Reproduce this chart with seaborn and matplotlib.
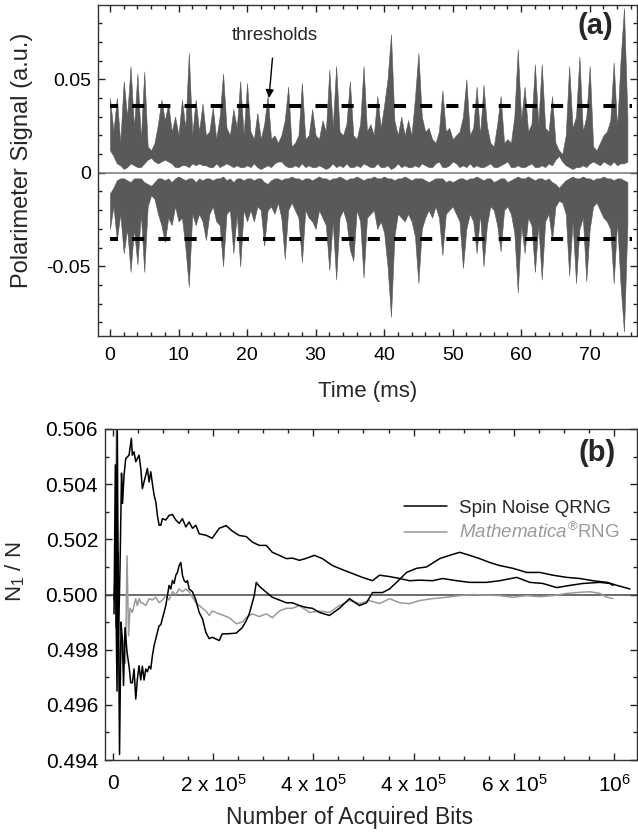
import numpy as np
import pandas as pd
import matplotlib
matplotlib.use('Agg')
import matplotlib.pyplot as plt
from matplotlib.lines import Line2D
from matplotlib.ticker import MultipleLocator, FixedLocator, FormatStrFormatter
import seaborn as sns

# ---- panel (a): polarimeter signal envelope, sampled every 0.5 ms ----
time_ms = np.arange(0, 76, 0.5)

pos_top = [0.040, 0.022, 0.040, 0.016, 0.049, 0.030, 0.057, 0.024, 0.053, 0.018,
           0.054, 0.014, 0.012, 0.016, 0.026, 0.039, 0.028, 0.037, 0.022, 0.030,
           0.020, 0.039, 0.024, 0.064, 0.020, 0.039, 0.022, 0.037, 0.020, 0.022,
           0.035, 0.018, 0.030, 0.053, 0.024, 0.020, 0.034, 0.024, 0.049, 0.020,
           0.048, 0.022, 0.018, 0.032, 0.018, 0.026, 0.041, 0.018, 0.020, 0.016,
           0.020, 0.028, 0.046, 0.014, 0.016, 0.020, 0.048, 0.018, 0.020, 0.034,
           0.020, 0.018, 0.028, 0.022, 0.055, 0.024, 0.057, 0.022, 0.020, 0.026,
           0.049, 0.020, 0.018, 0.026, 0.057, 0.022, 0.026, 0.020, 0.041, 0.024,
           0.036, 0.050, 0.074, 0.028, 0.020, 0.030, 0.020, 0.028, 0.020, 0.040,
           0.064, 0.030, 0.022, 0.024, 0.018, 0.016, 0.022, 0.044, 0.022, 0.024,
           0.018, 0.020, 0.022, 0.030, 0.050, 0.020, 0.024, 0.046, 0.020, 0.047,
           0.025, 0.016, 0.014, 0.026, 0.041, 0.016, 0.018, 0.016, 0.030, 0.066,
           0.028, 0.046, 0.022, 0.026, 0.058, 0.026, 0.058, 0.024, 0.022, 0.041,
           0.016, 0.012, 0.010, 0.020, 0.057, 0.024, 0.030, 0.062, 0.022, 0.030,
           0.057, 0.014, 0.012, 0.016, 0.020, 0.022, 0.028, 0.059, 0.024, 0.060,
           0.088, 0.030]

pos_bot = [0.012, 0.009, 0.005, 0.004, 0.002, 0.003, 0.005, 0.004, 0.003, 0.003,
           0.005, 0.007, 0.008, 0.006, 0.005, 0.006, 0.007, 0.006, 0.005, 0.003,
           0.003, 0.004, 0.004, 0.003, 0.005, 0.004, 0.005, 0.004, 0.004, 0.003,
           0.003, 0.005, 0.003, 0.004, 0.005, 0.004, 0.003, 0.004, 0.003, 0.003,
           0.004, 0.003, 0.005, 0.003, 0.002, 0.003, 0.004, 0.003, 0.005, 0.006,
           0.006, 0.004, 0.003, 0.003, 0.004, 0.003, 0.005, 0.003, 0.004, 0.003,
           0.003, 0.004, 0.003, 0.002, 0.003, 0.005, 0.003, 0.004, 0.003, 0.005,
           0.003, 0.003, 0.004, 0.003, 0.005, 0.004, 0.003, 0.003, 0.005, 0.003,
           0.003, 0.004, 0.002, 0.003, 0.005, 0.003, 0.004, 0.003, 0.003, 0.004,
           0.003, 0.005, 0.004, 0.003, 0.003, 0.005, 0.006, 0.003, 0.003, 0.004,
           0.006, 0.005, 0.003, 0.004, 0.003, 0.005, 0.003, 0.004, 0.003, 0.003,
           0.004, 0.005, 0.003, 0.003, 0.004, 0.005, 0.006, 0.003, 0.003, 0.004,
           0.003, 0.003, 0.004, 0.005, 0.003, 0.003, 0.004, 0.003, 0.005, 0.004,
           0.007, 0.009, 0.006, 0.004, 0.003, 0.002, 0.003, 0.003, 0.004, 0.003,
           0.005, 0.006, 0.005, 0.004, 0.006, 0.005, 0.004, 0.006, 0.004, 0.005,
           0.005, 0.006]

neg_top = [-0.011, -0.008, -0.004, -0.003, -0.003, -0.004, -0.005, -0.003, -0.003, -0.003,
           -0.005, -0.006, -0.007, -0.005, -0.003, -0.003, -0.004, -0.003, -0.005, -0.003,
           -0.002, -0.003, -0.004, -0.003, -0.003, -0.005, -0.003, -0.004, -0.003, -0.003,
           -0.004, -0.003, -0.003, -0.002, -0.004, -0.003, -0.005, -0.003, -0.003, -0.004,
           -0.003, -0.003, -0.004, -0.003, -0.003, -0.005, -0.006, -0.004, -0.003, -0.003,
           -0.004, -0.003, -0.003, -0.002, -0.003, -0.003, -0.004, -0.003, -0.003, -0.004,
           -0.003, -0.002, -0.003, -0.003, -0.004, -0.003, -0.003, -0.002, -0.003, -0.004,
           -0.003, -0.003, -0.002, -0.003, -0.004, -0.003, -0.003, -0.002, -0.003, -0.003,
           -0.002, -0.003, -0.003, -0.004, -0.003, -0.003, -0.002, -0.003, -0.004, -0.003,
           -0.003, -0.003, -0.004, -0.005, -0.004, -0.003, -0.003, -0.003, -0.005, -0.004,
           -0.005, -0.004, -0.003, -0.003, -0.004, -0.003, -0.003, -0.002, -0.003, -0.004,
           -0.003, -0.003, -0.005, -0.004, -0.003, -0.003, -0.005, -0.004, -0.003, -0.002,
           -0.003, -0.003, -0.002, -0.003, -0.004, -0.003, -0.003, -0.004, -0.003, -0.005,
           -0.006, -0.008, -0.006, -0.004, -0.003, -0.002, -0.003, -0.003, -0.002, -0.003,
           -0.003, -0.004, -0.003, -0.003, -0.002, -0.003, -0.003, -0.004, -0.003, -0.003,
           -0.004, -0.005]

neg_bot = [-0.030, -0.018, -0.036, -0.022, -0.043, -0.030, -0.053, -0.030, -0.049, -0.022,
           -0.053, -0.018, -0.012, -0.014, -0.022, -0.028, -0.037, -0.024, -0.028, -0.018,
           -0.026, -0.024, -0.040, -0.061, -0.022, -0.028, -0.022, -0.026, -0.036, -0.022,
           -0.018, -0.026, -0.028, -0.050, -0.022, -0.020, -0.043, -0.022, -0.050, -0.020,
           -0.026, -0.020, -0.026, -0.018, -0.020, -0.039, -0.020, -0.018, -0.022, -0.016,
           -0.024, -0.046, -0.020, -0.016, -0.020, -0.024, -0.048, -0.020, -0.024, -0.026,
           -0.030, -0.020, -0.024, -0.028, -0.052, -0.026, -0.057, -0.024, -0.020, -0.026,
           -0.041, -0.047, -0.020, -0.026, -0.056, -0.024, -0.022, -0.020, -0.030, -0.026,
           -0.032, -0.050, -0.077, -0.034, -0.022, -0.024, -0.026, -0.022, -0.026, -0.034,
           -0.059, -0.030, -0.024, -0.020, -0.024, -0.018, -0.024, -0.044, -0.022, -0.020,
           -0.018, -0.022, -0.026, -0.051, -0.030, -0.022, -0.026, -0.043, -0.022, -0.050,
           -0.028, -0.018, -0.020, -0.028, -0.042, -0.020, -0.018, -0.022, -0.032, -0.064,
           -0.028, -0.043, -0.024, -0.028, -0.053, -0.028, -0.057, -0.026, -0.022, -0.036,
           -0.018, -0.015, -0.016, -0.022, -0.055, -0.026, -0.059, -0.030, -0.024, -0.058,
           -0.030, -0.018, -0.016, -0.020, -0.024, -0.026, -0.030, -0.059, -0.026, -0.060,
           -0.085, -0.028]

thresholds = [0.0356, -0.0356]

# ---- panel (b): running fraction of ones ----
spin_a_bits = [2000, 4600, 6400, 8400, 11000, 14000, 17000, 19000, 22000, 25400,
               32000, 36600, 38600, 42000, 45400, 48600, 52000, 55400, 58600, 65400,
               68600, 72000, 75400, 78600, 82000, 85400, 88600, 92000, 95400, 98600,
               105400, 112000, 118600, 125400, 132000, 138600, 145400, 152000, 158600, 165400,
               172000, 185400, 198000, 212000, 226000, 238000, 252000, 266000, 278000, 292000,
               306000, 318000, 332000, 346000, 358000, 372000, 384000, 402000, 418000, 438000,
               458000, 478000, 498000, 518000, 532000, 552000, 572000, 592000, 612000, 638000,
               658000, 686000, 712000, 746000, 772000, 806000, 832000, 858000, 886000, 912000,
               938000, 972000, 992000, 998000]
spin_a_ratio = [0.4993, 0.5047, 0.4988, 0.5066, 0.4985, 0.5010, 0.5044, 0.5033, 0.50433, 0.50493,
                0.50505, 0.50566, 0.50505, 0.50517, 0.50481, 0.50493, 0.50505, 0.50457, 0.50384, 0.50433,
                0.50457, 0.50408, 0.50445, 0.50402, 0.50360, 0.50336, 0.50287, 0.50251, 0.50251, 0.50275,
                0.50270, 0.50287, 0.50290, 0.50270, 0.50258, 0.50275, 0.50245, 0.50263, 0.50240, 0.50251,
                0.50220, 0.50215, 0.50204, 0.50240, 0.50250, 0.50230, 0.50214, 0.50210, 0.50190, 0.50178,
                0.50178, 0.50153, 0.50142, 0.50130, 0.50132, 0.50124, 0.50130, 0.50142, 0.50130, 0.50105,
                0.50090, 0.50076, 0.50062, 0.50050, 0.50070, 0.50065, 0.50058, 0.50050, 0.50052, 0.50050,
                0.50058, 0.50050, 0.50044, 0.50044, 0.50050, 0.50062, 0.50044, 0.50040, 0.50025, 0.50033,
                0.50040, 0.50044, 0.50040, 0.50033]

spin_b_bits = [2000, 5000, 8000, 10000, 13000, 16000, 18600, 21000, 24000, 28000,
               32000, 35400, 38600, 42000, 45400, 48600, 52000, 55400, 58600, 62000,
               65400, 68600, 72000, 75400, 78600, 82000, 85400, 88600, 92000, 95400,
               98600, 102000, 105400, 108600, 112000, 115400, 118600, 122000, 125400, 128600,
               132000, 135400, 138600, 142000, 145400, 148600, 152000, 158600, 165400, 172000,
               178600, 185400, 192000, 198000, 212000, 218000, 232000, 246000, 258000, 266000,
               272000, 278000, 282000, 286000, 292000, 306000, 318000, 332000, 346000, 358000,
               372000, 386000, 398000, 412000, 432000, 452000, 472000, 492000, 506000, 518000,
               538000, 552000, 566000, 586000, 606000, 626000, 652000, 672000, 692000, 712000,
               732000, 752000, 772000, 798000, 826000, 852000, 878000, 906000, 932000, 958000,
               986000, 1006000, 1032000]
spin_b_ratio = [0.4998, 0.5010, 0.4965, 0.5015, 0.4942, 0.4990, 0.4984, 0.4967, 0.4988, 0.4979,
                0.4974, 0.4968, 0.4968, 0.4973, 0.49621, 0.49693, 0.49742, 0.4969, 0.4974, 0.4969,
                0.4973, 0.4972, 0.4974, 0.4973, 0.49778, 0.49815, 0.49839, 0.49863, 0.49887, 0.4989,
                0.49913, 0.49936, 0.4996, 0.49996, 0.50033, 0.5002, 0.50051, 0.5004, 0.5007, 0.5008,
                0.50105, 0.50116, 0.5007, 0.5005, 0.50044, 0.5005, 0.5002, 0.5001, 0.4998, 0.49935,
                0.49912, 0.49862, 0.4984, 0.49845, 0.49833, 0.49857, 0.49858, 0.4986, 0.4988, 0.49905,
                0.4993, 0.4997, 0.49996, 0.50044, 0.5003, 0.50008, 0.4999, 0.4998, 0.4997, 0.4997,
                0.4996, 0.49953, 0.4995, 0.49935, 0.49924, 0.4995, 0.49985, 0.4996, 0.4997, 0.50007,
                0.50007, 0.5002, 0.50044, 0.5008, 0.50095, 0.5010, 0.5013, 0.50142, 0.50153, 0.50142,
                0.5013, 0.50116, 0.50105, 0.50095, 0.5008, 0.5008, 0.5007, 0.50062, 0.50058, 0.5005,
                0.50044, 0.50033, 0.5002]

math_bits = [4000, 7000, 10000, 14000, 18000, 22000, 25000, 28000, 31000, 34000,
             38600, 42000, 45400, 48600, 52000, 55400, 58600, 65400, 72000, 78600,
             85400, 92000, 98600, 105400, 112000, 118600, 125400, 132000, 138600, 145400,
             152000, 158600, 165400, 172000, 178600, 185400, 192000, 198000, 212000, 232000,
             246000, 258000, 266000, 278000, 292000, 306000, 318000, 332000, 346000, 358000,
             372000, 392000, 412000, 432000, 452000, 472000, 492000, 512000, 532000, 552000,
             572000, 592000, 612000, 638000, 666000, 692000, 718000, 746000, 772000, 798000,
             826000, 852000, 878000, 906000, 932000, 952000, 972000, 986000, 998000]
math_ratio = [0.4995, 0.5065, 0.4990, 0.4973, 0.4985, 0.4980, 0.4975, 0.5014, 0.4985, 0.4995,
              0.49935, 0.4996, 0.49985, 0.4996, 0.49985, 0.4997, 0.4997, 0.4996, 0.49985, 0.4998,
              0.4999, 0.4997, 0.4998, 0.49996, 0.4998, 0.5001, 0.5000, 0.5002, 0.5001, 0.5002,
              0.5001, 0.4999, 0.4997, 0.4996, 0.4995, 0.4994, 0.49924, 0.4994, 0.4993, 0.49916,
              0.49894, 0.4990, 0.49916, 0.4993, 0.4992, 0.4993, 0.49916, 0.4994, 0.4995, 0.4995,
              0.4996, 0.49935, 0.4994, 0.49935, 0.4996, 0.49978, 0.49967, 0.49978, 0.49967, 0.49985,
              0.4997, 0.49967, 0.49978, 0.49985, 0.4999, 0.49996, 0.5000, 0.49998, 0.49996, 0.4999,
              0.49996, 0.49992, 0.49996, 0.50004, 0.50008, 0.5001, 0.50004, 0.4999, 0.49985]

bit_ticks = [0, 200000, 400000, 600000, 800000, 1000000]
bit_tick_labels = ['0', r'2 x 10$^5$', r'4 x 10$^5$', r'4 x 10$^5$', r'6 x 10$^5$', r'10$^6$']

sns.set_theme(style='ticks')
plt.rcParams['font.family'] = ['Liberation Sans', 'DejaVu Sans']
plt.rcParams['mathtext.fontset'] = 'custom'
plt.rcParams['mathtext.rm'] = 'Liberation Sans'
plt.rcParams['mathtext.it'] = 'Liberation Sans:italic'
plt.rcParams['mathtext.bf'] = 'Liberation Sans:bold'

W, H = 638, 833
fig = plt.figure(figsize=(W / 100, H / 100), dpi=100)
ax1 = fig.add_axes([98 / W, 1 - 336 / H, (637 - 98) / W, (336 - 5) / H])
ax2 = fig.add_axes([105 / W, 1 - 760 / H, (637 - 105) / W, (760 - 429) / H])

# panel (a)
sig_color = '#595959'
ax1.fill_between(time_ms, pos_bot, pos_top, color=sig_color, lw=0.4, edgecolor=sig_color)
ax1.fill_between(time_ms, neg_bot, neg_top, color=sig_color, lw=0.4, edgecolor=sig_color)
ax1.axhline(0, color='#777777', lw=1.1, zorder=1)
for thr in thresholds:
    ax1.plot([0, 76.2], [thr, thr], color='black', lw=2.9,
             linestyle=(1, (3, 3.5)), zorder=3)
ax1.annotate('thresholds', xy=(23.2, 0.040), xytext=(24.0, 0.0735),
             ha='center', va='center', fontsize=13.5,
             arrowprops=dict(arrowstyle='-|>', color='black', lw=1, mutation_scale=12,
                             shrinkA=8, shrinkB=0))
ax1.set_xlim(-1.75, 76.9)
ax1.set_ylim(-0.0873, 0.0897)
ax1.xaxis.set_major_locator(MultipleLocator(10))
ax1.xaxis.set_minor_locator(MultipleLocator(2))
ax1.yaxis.set_major_locator(FixedLocator([-0.05, 0, 0.05]))
ax1.yaxis.set_minor_locator(MultipleLocator(0.01))
ax1.set_yticklabels(['-0.05', '0', '0.05'])
ax1.set_xlabel('Time (ms)', fontsize=16)
ax1.set_ylabel('Polarimeter Signal (a.u.)', fontsize=17)
ax1.xaxis.set_label_coords(0.5, -0.136)
ax1.yaxis.set_label_coords(-0.121, 0.532)
ax1.text(0.922, 0.937, '(a)', transform=ax1.transAxes, ha='center', va='center',
         fontsize=21, fontweight='bold')

# panel (b)
ax2.axhline(0.5, color='#444444', lw=1.1, zorder=1)
sns.lineplot(x=math_bits, y=math_ratio, ax=ax2, color='#9a9a9a', lw=1.1,
             estimator=None, sort=False)
sns.lineplot(x=spin_a_bits, y=spin_a_ratio, ax=ax2, color='black', lw=1.1,
             estimator=None, sort=False)
sns.lineplot(x=spin_b_bits, y=spin_b_ratio, ax=ax2, color='black', lw=1.1,
             estimator=None, sort=False)
ax2.set_xlim(-16000, 1046000)
ax2.set_ylim(0.494, 0.506)
ax2.xaxis.set_major_locator(FixedLocator(bit_ticks))
ax2.set_xticklabels(bit_tick_labels)
ax2.xaxis.set_minor_locator(MultipleLocator(50000))
ax2.yaxis.set_major_locator(MultipleLocator(0.002))
ax2.yaxis.set_minor_locator(MultipleLocator(0.001))
ax2.yaxis.set_major_formatter(FormatStrFormatter('%.3f'))
ax2.set_xlabel('Number of Acquired Bits', fontsize=16.5)
ax2.set_ylabel(r'N$_1$ / N', fontsize=16)
ax2.xaxis.set_label_coords(0.459, -0.14)
ax2.yaxis.set_label_coords(-0.147, 0.568)
ax2.text(0.925, 0.927, '(b)', transform=ax2.transAxes, ha='center', va='center',
         fontsize=21, fontweight='bold')

handles = [Line2D([], [], color='black', lw=1.1), Line2D([], [], color='#9a9a9a', lw=1.1)]
leg = ax2.legend(handles, ['Spin Noise QRNG', r'$\mathit{Mathematica}^{\circledR}$RNG'],
                 loc='upper left', bbox_to_anchor=(0.545, 0.815), frameon=False,
                 fontsize=13.5, handlelength=2.3, handletextpad=0.6, labelspacing=0.3,
                 borderpad=0)
leg.get_texts()[1].set_color('#9a9a9a')

for ax, lsize in ((ax1, 14), (ax2, 15)):
    ax.tick_params(which='both', direction='in', top=True, right=True,
                   colors='#222222', labelcolor='black', labelsize=lsize, width=1)
    ax.tick_params(which='major', length=5, pad=5)
    ax.tick_params(which='minor', length=3)
    for sp in ax.spines.values():
        sp.set_color('#333333')
        sp.set_linewidth(1)
ax1.tick_params(axis='x', which='major', pad=8)
ax2.tick_params(axis='x', which='major', pad=10)

fig.savefig('out.png', dpi=100)
